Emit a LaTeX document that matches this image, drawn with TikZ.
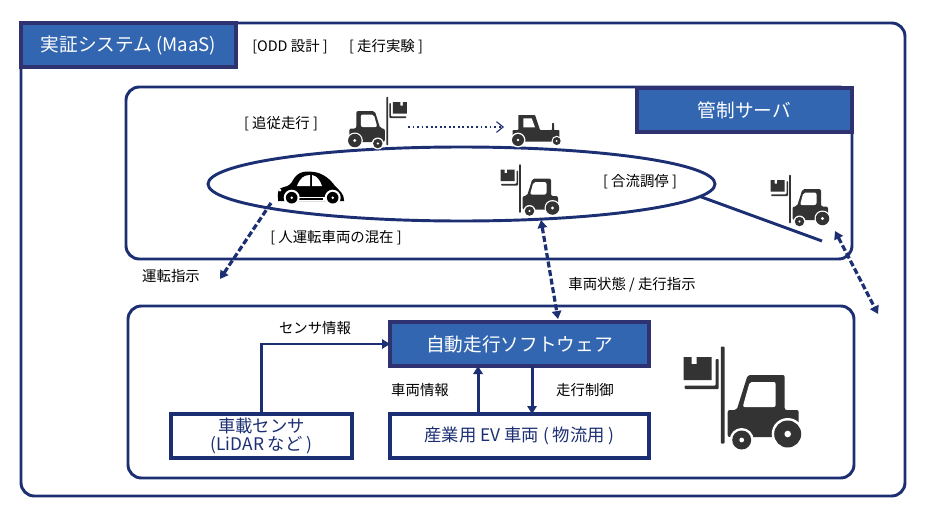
\documentclass[tikz,border=0pt]{standalone}
\usepackage{fontspec}
\setmainfont{Noto Sans CJK JP}
\usetikzlibrary{arrows.meta,shapes.geometric}
\definecolor{navy}{HTML}{1D2F73}
\definecolor{blfill}{HTML}{3366B0}
\definecolor{bledge}{HTML}{2F3270}
\definecolor{iconc}{HTML}{333333}
\tikzset{
  frame/.style={draw=navy,line width=2.2pt,rounded corners=10pt,anchor=north west,inner sep=0pt,outer sep=0pt},
  bluebox/.style={draw=bledge,fill=blfill,line width=2.7pt,text=white,anchor=north west,inner sep=0pt,outer sep=0pt,font=\fontsize{14}{16}\selectfont},
  whitebox/.style={draw=navy,fill=white,line width=2.6pt,text=navy,anchor=north west,inner sep=0pt,outer sep=0pt,align=center,font=\fontsize{13}{14}\selectfont},
  lbl/.style={font=\fontsize{10.8}{12}\selectfont,inner sep=0pt},
  flow/.style={draw=navy,line width=2.2pt,-{Triangle[length=6pt,width=7pt]}},
  dashline/.style={draw=navy,line width=2.4pt,dash pattern=on 4.5pt off 2pt},
  dashflow/.style={dashline,{Triangle[length=6pt,width=7pt]}-{Triangle[length=6pt,width=7pt]}},
  pics/forklift/.style={code={
    \fill[iconc,rounded corners=0.6pt] (-1.8,-48.5) rectangle (1.8,48.5);
    \fill[iconc] (-39,-38) -- (-31,-38) -- (-31,-31) -- (-26,-31) -- (-26,-38) -- (-11,-38) -- (-11,-15) -- (-39,-15) -- cycle;
    \fill[iconc,rounded corners=0.6pt] (-7,-36) -- (-4,-36) -- (-4,-6) -- (-38,-6) -- (-38,-9.5) -- (-7,-9.5) -- cycle;
    \fill[iconc,rounded corners=1.5pt] (5,42) -- (5,15) -- (14,15) -- (25,-20) -- (62,-20) -- (62,15) -- (76,15) -- (76,42) -- cycle;
    \fill[white,rounded corners=1.5pt] (27,-13) -- (53,-13) -- (53,12) -- (20,12) -- cycle;
    \fill[white] (19,45) circle (12);
    \fill[iconc] (19,45) circle (9.5);
    \fill[white] (19,45) circle (2.4);
    \fill[white] (65,39) circle (16);
    \fill[iconc] (65,39) circle (13.5);
    \fill[white] (65,39) circle (3.3);
  }},
  pics/tractor/.style={code={
    \fill[iconc,rounded corners=0.5pt] (-17.7,-15) -- (-1,-15) -- (4,0) -- (16,0) -- (16,-7) -- (18,-7) -- (18,0) -- (23.3,0) -- (23.3,11.7) -- (-23.3,11.7) -- (-23.3,0) -- (-17.7,0) -- cycle;
    \fill[white] (-12.7,-11.7) -- (-4.3,-11.7) -- (-1,-2.7) -- (-12.7,-2.7) -- cycle;
    \fill[white] (-18,10) circle (7.4);
    \fill[iconc] (-18,10) circle (6);
    \fill[white] (-18,10) circle (1.3);
    \fill[white] (20.7,11) circle (5.2);
    \fill[iconc] (20.7,11) circle (4);
    \fill[white] (20.7,11) circle (1);
  }},
  pics/beetle/.style={code={
    \fill[black] (-33,10) .. controls (-34,3) and (-32,0) .. (-27,-1)
      .. controls (-22,-2) and (-20,-4) .. (-18,-8)
      .. controls (-13,-17) and (-5,-17) .. (3,-16)
      .. controls (12,-15) and (20,-8) .. (24,-2)
      .. controls (29,3) and (33,6) .. (33,12) -- (33,13) -- (-33,13) -- cycle;
    \fill[white] (-14,-2) .. controls (-11,-10) and (-7,-13) .. (-1,-13) -- (-1,-2) -- cycle;
    \fill[white] (1,-13) .. controls (6,-12) and (9,-8) .. (11,-2) -- (1,-2) -- cycle;
    \fill[white] (-31,2) circle (1.5);
    \fill[white] (-17,13) rectangle (17,8.5);
    \fill[black] (-12,11.5) rectangle (12,10);
    \fill[white] (-19.3,9.7) circle (8);
    \fill[black] (-19.3,9.7) circle (5.8);
    \fill[white] (-19.3,9.7) circle (1.4);
    \fill[white] (21.7,9.7) circle (8);
    \fill[black] (21.7,9.7) circle (5.8);
    \fill[white] (21.7,9.7) circle (1.4);
  }}
}
\begin{document}
\begin{tikzpicture}[x=0.75pt,y=-0.75pt]
  \useasboundingbox (0,0) rectangle (926,518);
  % outer frames
  \node[frame,minimum width=884*0.75pt,minimum height=473*0.75pt] (maas) at (21,23) {};
  \node[frame,minimum width=726*0.75pt,minimum height=172*0.75pt] (field) at (126,87) {};
  \node[frame,minimum width=726*0.75pt,minimum height=172*0.75pt] (vehicle) at (128,306) {};
  % title boxes
  \node[bluebox,minimum width=215*0.75pt,minimum height=44*0.75pt] (maastitle) at (21,23) {実証システム (MaaS)};
  \node[bluebox,minimum width=215*0.75pt,minimum height=44*0.75pt] (server) at (637,88) {管制サーバ};
  \node[bluebox,minimum width=259*0.75pt,minimum height=44*0.75pt] (software) at (390,322) {自動走行ソフトウェア};
  \node[whitebox,minimum width=181*0.75pt,minimum height=44*0.75pt] (sensor) at (171,414) {車載センサ\\(LiDAR など )};
  \node[whitebox,minimum width=259*0.75pt,minimum height=44*0.75pt] (ev) at (390,414) {産業用 EV 車両 ( 物流用 )};
  % merge area
  \node[draw=navy,line width=2.2pt,ellipse,minimum width=507*0.75pt,minimum height=74*0.75pt,inner sep=0pt,outer sep=0pt] (merge) at (461.5,184) {};
  \coordinate (tailend) at (822,241);
  \draw[navy,line width=2.2pt] (merge.-3.1) -- (tailend);
  % vehicles
  \pic[xscale=-0.5,yscale=0.5] at (387.3,121) {forklift};
  \pic at (536,130) {tractor};
  \pic[scale=0.5] at (520,188.5) {forklift};
  \pic[scale=0.5] at (790,199) {forklift};
  \pic[scale=1] at (722.7,395) {forklift};
  \pic at (311,188) {beetle};
  % connectors
  \coordinate (followa) at (408,127);
  \coordinate (followb) at (504,127);
  \draw[navy,line width=1.4pt,dotted,-{Straight Barb[length=5pt,width=8pt,line width=0.8pt]}] (followa) -- (followb);
  \coordinate (cara) at (271,203);
  \coordinate (carb) at (220,279);
  \draw[dashline,-{Triangle[length=6pt,width=7pt]}] (cara) -- (carb);
  \coordinate (mida) at (541,220);
  \coordinate (midb) at (558,319);
  \draw[dashflow] (mida) -- (midb);
  \coordinate (righta) at (835,231);
  \coordinate (rightb) at (878,314);
  \draw[dashflow] (righta) -- (rightb);
  \draw[flow] (sensor.north) |- (software.west);
  \draw[flow] ([xshift=-31.1pt]ev.north) -- ([xshift=-31.1pt]software.south);
  \draw[flow] ([xshift=9.4pt]software.south) -- ([xshift=9.4pt]ev.north);
  % labels
  \node[lbl] (odd) at (290,47) {[ODD 設計 ]};
  \node[lbl] (run) at (386,47) {[ 走行実験 ]};
  \node[lbl] (follow) at (281,124) {[ 追従走行 ]};
  \node[lbl] (join) at (640,182) {[ 合流調停 ]};
  \node[lbl] (mixed) at (336,238) {[ 人運転車両の混在 ]};
  \node[lbl] (drive) at (171,276) {運転指示};
  \node[lbl] (state) at (632,285) {車両状態 / 走行指示};
  \node[lbl] (sensinfo) at (315,328) {センサ情報};
  \node[lbl] (vehinfo) at (420,390) {車両情報};
  \node[lbl] (ctrl) at (585,390) {走行制御};
\end{tikzpicture}
\end{document}
